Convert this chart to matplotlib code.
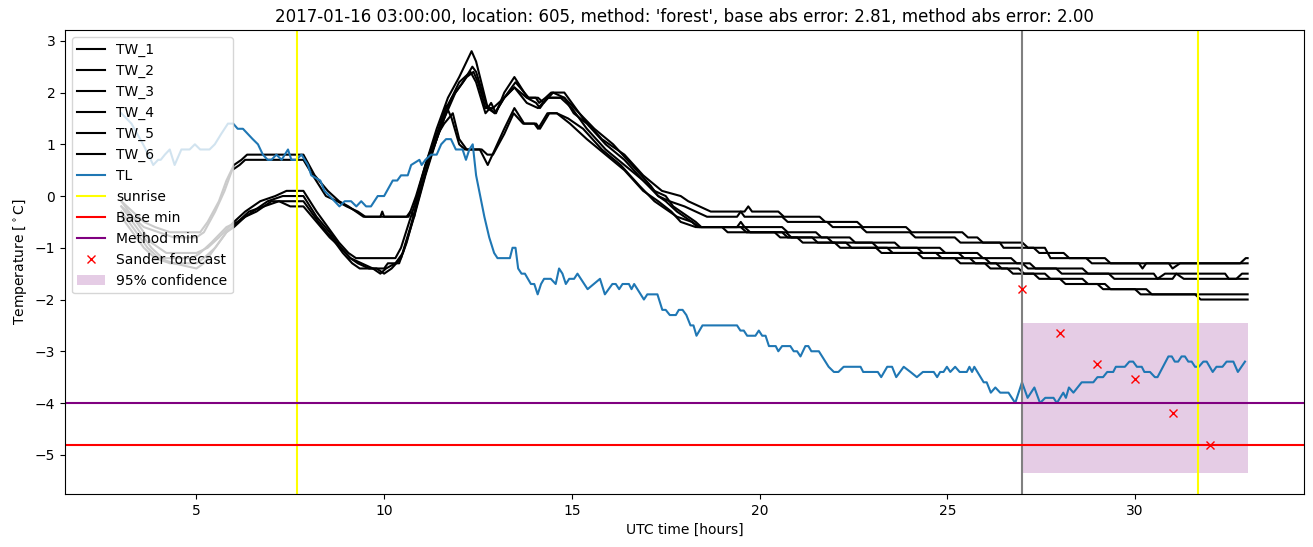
import matplotlib
matplotlib.use('Agg')
import matplotlib.pyplot as plt

# (hour, temperature) breakpoints
tw_1 = [(3.0, -0.1), (3.4, -0.5), (3.8, -0.9), (4.2, -1.1), (5.0, -1.1), (5.3, -1.0), (5.6, -0.8), (6.0, -0.5),
        (6.3, -0.3), (6.7, -0.1), (7.1, 0.0), (7.4, 0.1), (7.85, 0.1), (8.2, -0.3), (8.5, -0.6), (8.8, -0.9),
        (9.05, -1.1), (9.25, -1.2), (10.3, -1.2), (10.45, -1.0), (10.8, -0.2), (11.1, 0.6), (11.4, 1.3),
        (11.7, 1.9), (12.0, 2.3), (12.33, 2.8), (12.45, 2.6), (12.76, 1.7), (12.85, 1.8), (12.98, 1.6),
        (13.2, 2.0), (13.47, 2.3), (13.82, 1.9), (14.04, 1.9), (14.13, 1.8), (14.3, 1.9), (14.45, 2.0),
        (14.8, 2.0), (15.0, 1.8), (15.3, 1.5), (15.8, 1.1), (16.4, 0.8), (16.9, 0.4), (17.4, 0.1), (17.9, 0.0),
        (18.1, -0.1), (18.4, -0.2), (18.7, -0.3), (19.6, -0.3), (19.7, -0.2), (19.8, -0.3), (20.5, -0.3),
        (20.65, -0.4), (21.6, -0.4), (21.75, -0.5), (22.6, -0.5), (22.75, -0.6), (23.9, -0.6), (24.05, -0.7),
        (25.4, -0.7), (25.55, -0.8), (25.8, -0.8), (25.95, -0.9), (27.0, -0.9), (27.15, -1.0), (27.6, -1.0),
        (27.75, -1.2), (28.7, -1.2), (28.85, -1.3), (30.1, -1.3), (30.2, -1.4), (30.3, -1.3), (32.8, -1.3),
        (32.95, -1.2), (33.0, -1.2)]
tw_2 = [(3.0, -0.2), (3.4, -0.6), (3.8, -1.0), (4.1, -1.2), (4.9, -1.2), (5.1, -1.1), (5.4, -0.9), (5.8, -0.6),
        (6.1, -0.5), (6.5, -0.3), (6.9, -0.1), (7.3, 0.0), (7.85, 0.0), (8.2, -0.4), (8.55, -0.7), (8.85, -1.0),
        (9.1, -1.2), (9.3, -1.3), (9.6, -1.4), (10.0, -1.4), (10.1, -1.3), (10.4, -1.3), (10.6, -0.9),
        (10.9, -0.1), (11.2, 0.7), (11.5, 1.3), (11.8, 1.9), (12.1, 2.2), (12.35, 2.5), (12.45, 2.4),
        (12.75, 1.7), (12.95, 1.6), (13.2, 1.9), (13.47, 2.1), (13.8, 1.9), (14.05, 1.8), (14.15, 1.7),
        (14.35, 1.9), (14.8, 1.9), (15.05, 1.6), (15.4, 1.4), (15.9, 1.0), (16.4, 0.7), (16.9, 0.3), (17.3, 0.0),
        (17.6, -0.1), (18.0, -0.2), (18.3, -0.3), (18.6, -0.4), (19.4, -0.4), (19.5, -0.3), (19.6, -0.4),
        (20.6, -0.4), (20.75, -0.5), (21.8, -0.5), (21.95, -0.6), (22.7, -0.6), (22.85, -0.7), (24.0, -0.7),
        (24.15, -0.8), (25.2, -0.8), (25.35, -0.9), (26.4, -0.9), (26.5, -1.0), (27.3, -1.0), (27.45, -1.1),
        (28.1, -1.1), (28.25, -1.2), (29.2, -1.2), (29.35, -1.3), (30.9, -1.3), (31.0, -1.4), (31.2, -1.3),
        (33.0, -1.3)]
tw_3 = [(3.0, -0.3), (3.3, -0.6), (3.7, -1.0), (4.0, -1.2), (4.4, -1.3), (5.0, -1.4), (5.2, -1.3), (5.5, -1.0),
        (5.8, -0.7), (6.0, -0.6), (6.3, -0.4), (6.6, -0.3), (7.0, -0.1), (7.85, -0.1), (8.25, -0.5), (8.6, -0.8),
        (8.9, -1.1), (9.15, -1.3), (9.35, -1.4), (9.8, -1.4), (10.0, -1.5), (10.2, -1.4), (10.45, -1.2),
        (10.7, -0.6), (11.0, 0.2), (11.3, 0.9), (11.6, 1.5), (11.9, 2.0), (12.2, 2.3), (12.38, 2.4), (12.5, 2.2),
        (12.7, 1.7), (12.9, 1.7), (13.2, 1.9), (13.47, 2.1), (13.8, 1.8), (14.1, 1.7), (14.35, 1.9), (14.7, 1.9),
        (15.0, 1.7), (15.4, 1.3), (15.9, 0.9), (16.4, 0.6), (16.9, 0.3), (17.2, 0.1), (17.5, 0.0), (17.7, -0.2),
        (18.1, -0.4), (18.3, -0.5), (18.45, -0.6), (19.4, -0.6), (19.5, -0.5), (19.6, -0.6), (20.6, -0.6),
        (20.75, -0.7), (21.5, -0.7), (21.65, -0.8), (22.4, -0.8), (22.55, -0.9), (23.6, -0.9), (23.75, -1.0),
        (24.8, -1.0), (24.95, -1.1), (25.8, -1.1), (25.95, -1.2), (26.7, -1.2), (26.85, -1.3), (27.2, -1.3),
        (27.35, -1.4), (28.6, -1.4), (28.75, -1.5), (30.5, -1.5), (30.6, -1.6), (30.8, -1.5), (32.4, -1.5),
        (32.5, -1.6), (32.7, -1.6), (32.85, -1.5), (33.0, -1.5)]
tw_4 = [(3.0, -0.4), (3.3, -0.7), (3.6, -1.0), (3.9, -1.2), (4.3, -1.3), (5.0, -1.3), (5.2, -1.2), (5.5, -1.0),
        (5.8, -0.7), (6.1, -0.5), (6.4, -0.3), (6.8, -0.2), (7.2, -0.1), (7.5, -0.2), (7.85, -0.2), (8.2, -0.5),
        (8.55, -0.8), (8.85, -1.0), (9.1, -1.2), (9.4, -1.3), (9.7, -1.4), (9.9, -1.5), (10.05, -1.4),
        (10.3, -1.3), (10.5, -1.1), (10.8, -0.4), (11.1, 0.4), (11.4, 1.1), (11.65, 1.7), (11.8, 1.9),
        (12.0, 2.2), (12.3, 2.4), (12.45, 2.2), (12.7, 1.6), (12.82, 1.7), (12.95, 1.6), (13.2, 1.9),
        (13.5, 2.2), (13.85, 1.9), (14.1, 1.9), (14.25, 1.8), (14.5, 2.0), (14.8, 1.9), (15.2, 1.6), (15.6, 1.3),
        (16.1, 1.0), (16.6, 0.6), (17.1, 0.2), (17.3, 0.0), (17.5, -0.1), (17.8, -0.3), (18.2, -0.5),
        (18.4, -0.6), (19.5, -0.6), (19.65, -0.7), (20.7, -0.7), (20.85, -0.8), (21.8, -0.8), (21.95, -0.9),
        (23.0, -0.9), (23.15, -1.0), (24.2, -1.0), (24.35, -1.1), (25.3, -1.1), (25.45, -1.2), (26.0, -1.2),
        (26.15, -1.3), (27.0, -1.3), (27.15, -1.4), (27.9, -1.4), (28.05, -1.5), (29.3, -1.5), (29.45, -1.6),
        (31.0, -1.6), (31.1, -1.5), (31.3, -1.6), (33.0, -1.6)]
tw_5 = [(3.0, -0.1), (3.3, -0.3), (3.6, -0.5), (3.9, -0.6), (4.3, -0.7), (5.1, -0.7), (5.3, -0.5), (5.6, -0.1),
        (5.8, 0.3), (6.0, 0.6), (6.2, 0.7), (6.35, 0.8), (7.85, 0.8), (8.15, 0.4), (8.5, 0.1), (8.8, -0.1),
        (9.05, -0.2), (9.25, -0.3), (9.45, -0.4), (9.9, -0.4), (9.95, -0.3), (10.0, -0.4), (10.6, -0.4),
        (10.7, -0.3), (10.8, -0.4), (10.95, 0.2), (11.2, 0.8), (11.45, 1.3), (11.65, 1.75), (11.8, 1.5),
        (12.0, 1.0), (12.15, 0.9), (12.55, 0.9), (12.76, 0.6), (12.95, 0.9), (13.2, 1.3), (13.47, 1.7),
        (13.73, 1.4), (14.0, 1.4), (14.1, 1.3), (14.35, 1.6), (14.6, 1.6), (14.9, 1.5), (15.3, 1.3), (15.8, 0.9),
        (16.3, 0.6), (16.8, 0.2), (17.2, -0.1), (17.6, -0.3), (17.8, -0.4), (18.2, -0.5), (18.35, -0.6),
        (19.6, -0.6), (19.75, -0.7), (20.6, -0.7), (20.75, -0.8), (21.4, -0.8), (21.55, -0.9), (22.3, -0.9),
        (22.45, -1.0), (23.4, -1.0), (23.55, -1.1), (24.7, -1.1), (24.85, -1.2), (25.6, -1.2), (25.75, -1.3),
        (26.3, -1.3), (26.45, -1.4), (26.9, -1.4), (27.05, -1.5), (27.6, -1.5), (27.75, -1.6), (28.6, -1.6),
        (28.75, -1.7), (29.2, -1.7), (29.35, -1.8), (30.3, -1.8), (30.45, -1.9), (33.0, -1.9)]
tw_6 = [(3.0, -0.2), (3.3, -0.4), (3.6, -0.6), (4.0, -0.7), (4.4, -0.8), (5.0, -0.8), (5.2, -0.7), (5.5, -0.3),
        (5.75, 0.1), (5.95, 0.5), (6.15, 0.6), (6.3, 0.7), (7.85, 0.7), (8.1, 0.4), (8.45, 0.0), (8.75, -0.1),
        (9.0, -0.2), (9.3, -0.3), (9.5, -0.4), (10.65, -0.4), (10.85, 0.0), (11.1, 0.6), (11.35, 1.1),
        (11.6, 1.4), (11.83, 1.6), (12.0, 1.1), (12.2, 0.9), (12.6, 0.9), (12.75, 0.8), (12.9, 0.8), (13.2, 1.2),
        (13.45, 1.6), (13.7, 1.4), (14.05, 1.4), (14.15, 1.3), (14.4, 1.6), (14.6, 1.6), (14.95, 1.4),
        (15.4, 1.1), (15.9, 0.8), (16.4, 0.5), (16.9, 0.1), (17.3, -0.1), (17.65, -0.3), (17.9, -0.5),
        (18.3, -0.6), (19.0, -0.6), (19.15, -0.7), (20.4, -0.7), (20.55, -0.8), (21.0, -0.8), (21.15, -0.9),
        (22.0, -0.9), (22.15, -1.0), (23.1, -1.0), (23.25, -1.1), (24.2, -1.1), (24.35, -1.2), (25.2, -1.2),
        (25.35, -1.3), (26.0, -1.3), (26.15, -1.4), (26.6, -1.4), (26.75, -1.5), (27.3, -1.5), (27.45, -1.6),
        (28.0, -1.6), (28.15, -1.7), (29.0, -1.7), (29.15, -1.8), (30.0, -1.8), (30.15, -1.9), (31.6, -1.9),
        (31.75, -2.0), (33.0, -2.0)]

tl = [(3.0, 1.6), (3.27, 1.4), (3.58, 1.0), (3.72, 0.8), (3.85, 0.6), (3.98, 0.7), (4.05, 0.7), (4.16, 0.8),
      (4.29, 0.9), (4.42, 0.6), (4.6, 0.9), (4.82, 0.9), (4.96, 1.0), (5.1, 0.9), (5.35, 0.9), (5.49, 1.0),
      (5.66, 1.2), (5.84, 1.4), (5.98, 1.4), (6.1, 1.3), (6.24, 1.3), (6.37, 1.2), (6.5, 1.1), (6.64, 1.0),
      (6.77, 0.8), (6.9, 0.7), (7.0, 0.7), (7.13, 0.8), (7.27, 0.7), (7.44, 0.9), (7.53, 0.7), (7.66, 0.7),
      (7.8, 0.8), (7.97, 0.6), (8.06, 0.4), (8.3, 0.3), (8.41, 0.1), (8.55, 0.0), (8.81, -0.2), (8.95, -0.1),
      (9.12, -0.1), (9.26, -0.2), (9.39, -0.1), (9.52, -0.2), (9.65, -0.2), (9.83, 0.0), (10.0, 0.0),
      (10.23, 0.3), (10.35, 0.3), (10.45, 0.4), (10.63, 0.4), (10.72, 0.6), (10.94, 0.7), (11.0, 0.6),
      (11.1, 0.7), (11.25, 0.8), (11.4, 0.8), (11.52, 1.0), (11.65, 1.1), (11.78, 1.1), (11.91, 0.9),
      (12.09, 0.9), (12.18, 0.7), (12.27, 0.9), (12.36, 1.0), (12.45, 0.4), (12.54, 0.07), (12.67, -0.4),
      (12.8, -0.8), (12.93, -1.1), (13.02, -1.2), (13.35, -1.2), (13.42, -1.0), (13.5, -1.0), (13.57, -1.4),
      (13.66, -1.5), (13.75, -1.5), (13.91, -1.7), (14.0, -1.7), (14.09, -1.9), (14.18, -1.7), (14.26, -1.6),
      (14.44, -1.6), (14.57, -1.7), (14.66, -1.4), (14.75, -1.5), (14.84, -1.7), (14.93, -1.6), (15.06, -1.6),
      (15.15, -1.5), (15.42, -1.8), (15.75, -1.6), (15.88, -1.9), (16.08, -1.7), (16.17, -1.7), (16.26, -1.8),
      (16.35, -1.7), (16.52, -1.7), (16.59, -1.8), (16.66, -1.7), (16.92, -2.0), (17.01, -1.9), (17.28, -1.9),
      (17.41, -2.2), (17.5, -2.2), (17.61, -2.3), (17.77, -2.3), (17.85, -2.2), (17.95, -2.2), (18.05, -2.3),
      (18.16, -2.5), (18.24, -2.5), (18.32, -2.7), (18.48, -2.5), (19.4, -2.5), (19.49, -2.6), (19.58, -2.6),
      (19.67, -2.7), (19.89, -2.7), (19.98, -2.6), (20.07, -2.7), (20.16, -2.7), (20.25, -2.9), (20.43, -2.9),
      (20.5, -3.0), (20.6, -2.9), (20.82, -2.9), (20.91, -3.0), (21.0, -3.0), (21.09, -3.1), (21.22, -2.9),
      (21.3, -2.9), (21.38, -3.0), (21.58, -3.0), (21.84, -3.3), (21.98, -3.4), (22.1, -3.4), (22.24, -3.3),
      (22.69, -3.3), (22.76, -3.4), (23.15, -3.4), (23.24, -3.5), (23.4, -3.3), (23.53, -3.3), (23.64, -3.5),
      (23.84, -3.3), (24.02, -3.4), (24.19, -3.5), (24.35, -3.4), (24.64, -3.4), (24.73, -3.5), (24.81, -3.4),
      (24.9, -3.4), (24.99, -3.3), (25.08, -3.4), (25.21, -3.3), (25.33, -3.4), (25.52, -3.4), (25.59, -3.3),
      (25.66, -3.4), (25.72, -3.3), (25.97, -3.6), (26.05, -3.6), (26.16, -3.8), (26.28, -3.7), (26.41, -3.8),
      (26.63, -3.8), (26.81, -4.0), (26.99, -3.6), (27.14, -3.9), (27.32, -3.7), (27.47, -4.0), (27.61, -3.9),
      (27.83, -3.9), (27.92, -4.0), (28.09, -3.8), (28.16, -3.9), (28.24, -3.7), (28.36, -3.8), (28.58, -3.6),
      (28.89, -3.6), (29.0, -3.5), (29.15, -3.5), (29.26, -3.4), (29.42, -3.4), (29.49, -3.3), (29.73, -3.3),
      (29.85, -3.2), (29.95, -3.2), (30.05, -3.3), (30.18, -3.3), (30.25, -3.4), (30.4, -3.4), (30.53, -3.5),
      (30.6, -3.5), (30.89, -3.1), (30.98, -3.1), (31.06, -3.2), (31.15, -3.2), (31.24, -3.1), (31.33, -3.1),
      (31.42, -3.2), (31.51, -3.2), (31.6, -3.3), (31.7, -3.3), (31.82, -3.2), (31.91, -3.2), (32.07, -3.4),
      (32.17, -3.3), (32.33, -3.3), (32.44, -3.2), (32.62, -3.2), (32.74, -3.4), (32.93, -3.2)]

sunrise_hours = [7.69, 31.68]
forecast_start = 27.0
base_min = -4.81
method_min = -4.0
sander_hours = [27, 28, 29, 30, 31, 32]
sander_temp = [-1.8, -2.65, -3.25, -3.53, -4.2, -4.82]
conf_hours = [27.0, 33.0]
conf_low = [-5.35, -5.35]
conf_high = [-2.45, -2.45]

title = "2017-01-16 03:00:00, location: 605, method: 'forest', base abs error: 2.81, method abs error: 2.00"


def main():
    fig, ax = plt.subplots(figsize=(13.13, 5.47), dpi=100)
    fig.subplots_adjust(left=0.0495, right=0.9931, top=0.945, bottom=0.097)

    for i, series in enumerate([tw_1, tw_2, tw_3, tw_4, tw_5, tw_6]):
        xs, ys = zip(*series)
        ax.plot(xs, ys, color='black', label=f'TW_{i + 1}')

    xs, ys = zip(*tl)
    ax.plot(xs, ys, color='C0', label='TL')

    ax.axvline(sunrise_hours[0], color='yellow', label='sunrise')
    ax.axvline(sunrise_hours[1], color='yellow')
    ax.axvline(forecast_start, color='gray')
    ax.axhline(base_min, color='red', label='Base min')
    ax.axhline(method_min, color='purple', label='Method min')
    ax.plot(sander_hours, sander_temp, 'x', color='red', linestyle='none', label='Sander forecast')
    ax.fill_between(conf_hours, conf_low, conf_high, color='purple', alpha=0.2, linewidth=0,
                    label='95% confidence')

    ax.set_title(title)
    ax.set_xlabel('UTC time [hours]')
    ax.set_ylabel(r'Temperature [$^\circ$C]')
    ax.legend(loc='upper left')

    fig.savefig('out.png')


if __name__ == "__main__":
    main()
